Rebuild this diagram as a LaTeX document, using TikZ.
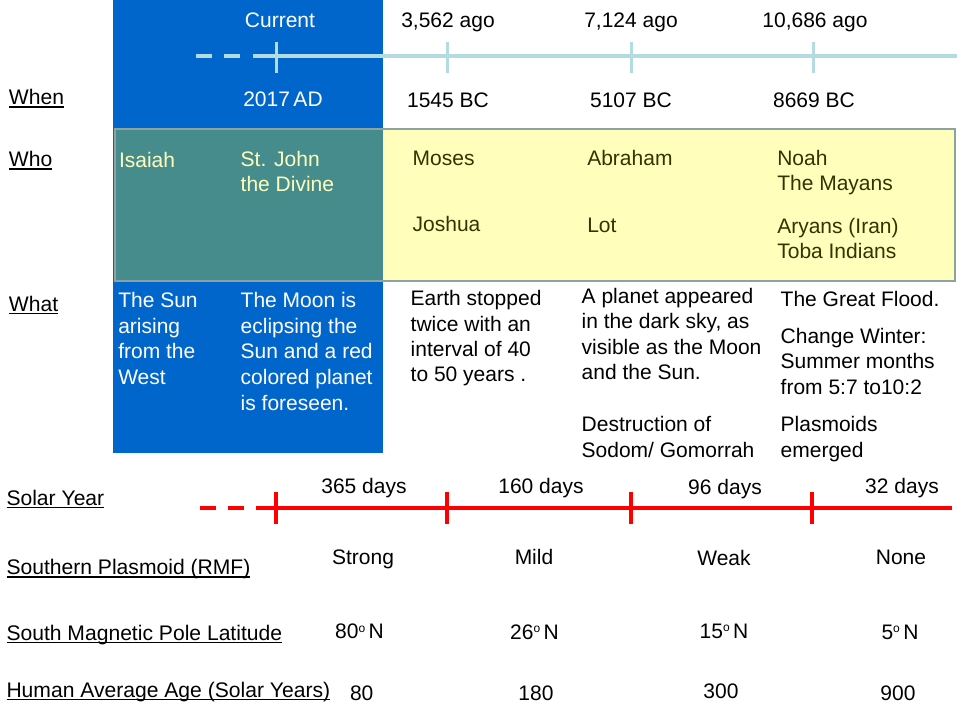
\documentclass[tikz,border=0pt]{standalone}
\usepackage{fontspec}
\setmainfont{Liberation Sans}
\definecolor{bluebg}{HTML}{0066CC}
\definecolor{tealbg}{HTML}{468C8C}
\definecolor{yellowbg}{HTML}{FFFFBB}
\definecolor{boxline}{HTML}{8CA3A3}
\definecolor{olive}{HTML}{333300}
\definecolor{paleyel}{HTML}{FFFFBB}
\definecolor{tline}{HTML}{B4DCE0}
\definecolor{redline}{HTML}{FF0000}
\newsavebox\ulbox
\newcommand{\ulx}[1]{\sbox\ulbox{#1}\rlap{\rule[-3.4pt]{\wd\ulbox}{1.7pt}}\usebox\ulbox}
\newcommand{\ml}[1]{\begin{tabular}[t]{@{}l@{}}#1\end{tabular}}
\newcommand{\dg}{\raisebox{6.5pt}{\fontsize{12}{12}\selectfont o}}
\begin{document}
\begin{tikzpicture}[x=1pt,y=-1pt,
  txt/.style={inner sep=0pt,outer sep=0pt,font=\fontsize{21}{25.4}\selectfont},
  lbl/.style={txt,anchor=base west,font=\fontsize{21.1}{25.4}\selectfont},
  ctr/.style={txt,anchor=base},
  lft/.style={txt,anchor=base west},
  wtxt/.style={text=white},
  ytxt/.style={text=paleyel},
  otxt/.style={text=olive},
  tlblue/.style={draw=tline,line width=3.3pt},
  tlred/.style={draw=redline,line width=3.6pt}]
\useasboundingbox (0,0) rectangle (964,710);
% backgrounds
\fill[bluebg] (113,0) rectangle (383,453);
\fill[yellowbg] (383,129) rectangle (955,281);
\fill[tealbg] (115,129) rectangle (383,281);
\draw[boxline,line width=2.6pt] (115,129) rectangle (955,281);

% top timeline
\coordinate (bd0) at (196,56);
\coordinate (bd1) at (263,56);
\coordinate (bend) at (957,56);
\draw[tlblue,dash pattern=on 15.7pt off 12.7pt] (bd0) -- (266,56);
\draw[tlblue] (bd1) -- (bend);
\foreach \n/\x in {t0/276,t1/447,t2/631,t3/813}{
  \coordinate (\n a) at (\x,42);
  \coordinate (\n b) at (\x,72.5);
  \draw[draw=tline,line width=3pt] (\n a) -- (\n b);
}
\node[ctr,wtxt] (cur) at (280,27.3) {Current};
\node[ctr] (ago1) at (448,27.3) {3,562 ago};
\node[ctr] (ago2) at (631,27.3) {7,124 ago};
\node[ctr] (ago3) at (815,27.3) {10,686 ago};
\node[ctr,wtxt] (y0) at (283,106.7) {2017\,AD};
\node[ctr] (y1) at (448,107) {1545 BC};
\node[ctr] (y2) at (631,107) {5107 BC};
\node[ctr] (y3) at (814,107) {8669 BC};

% row labels
\node[lbl] (when) at (9,104.5) {\ulx{When}};
\node[lbl] (who) at (9,166.5) {\ulx{Who}};
\node[lbl] (what) at (9,311) {\ulx{What}};

% who
\node[lft,ytxt] (isaiah) at (119,167.3) {Isaiah};
\node[lft,ytxt] (john) at (240.7,166) {\ml{St. John\\the Divine}};
\node[lft,otxt] (moses) at (412.7,165) {Moses};
\node[lft,otxt] (joshua) at (412.7,231.7) {Joshua};
\node[lft,otxt] (abraham) at (587.3,165) {Abraham};
\node[lft,otxt] (lot) at (587.3,232.3) {Lot};
\node[lft,otxt] (noah) at (777.3,165) {\ml{Noah\\The Mayans}};
\node[lft,otxt] (aryans) at (777.3,233.3) {\ml{Aryans (Iran)\\Toba Indians}};

% what
\node[lft,wtxt,font=\fontsize{21}{25.7}\selectfont] (sun) at (118.3,307.3) {\ml{The Sun\\arising\\from the\\West}};
\node[lft,wtxt,font=\fontsize{21}{25.7}\selectfont] (moon) at (240.7,307.3) {\ml{The Moon is\\eclipsing the\\Sun and a red\\colored planet\\is foreseen.}};
\node[lft] (earth) at (410.7,305.7) {\ml{Earth stopped\\twice with an\\interval of 40\\to 50 years .}};
\node[lft] (planet) at (581.7,303.3) {\ml{A planet appeared\\in the dark sky, as\\visible as the Moon\\and the Sun.}};
\node[lft] (sodom) at (581.7,431.7) {\ml{Destruction of\\Sodom/ Gomorrah}};
\node[lft] (flood) at (780.7,306.7) {The Great Flood.};
\node[lft] (winter) at (780.7,343.3) {\ml{Change Winter:\\Summer months\\from 5:7 to10:2}};
\node[lft] (plasm) at (780.7,431.7) {\ml{Plasmoids\\emerged}};

% solar year timeline
\coordinate (rd0) at (200,508);
\coordinate (rd1) at (272,508);
\coordinate (rend) at (952,508);
\draw[tlred,dash pattern=on 16pt off 12pt] (rd0) -- (rd1);
\draw[tlred] (rd1) -- (rend);
\foreach \n/\x in {r0/276,r1/447,r2/631,r3/812}{
  \coordinate (\n a) at (\x,492);
  \coordinate (\n b) at (\x,524);
  \draw[draw=redline,line width=3.6pt] (\n a) -- (\n b);
}
\node[lbl] (solar) at (6.5,505) {\ulx{Solar Year}};
\node[ctr] (d1) at (364,493.3) {365 days};
\node[ctr] (d2) at (541,493.3) {160 days};
\node[ctr] (d3) at (725,494.3) {96 days};
\node[ctr] (d4) at (902,493.3) {32 days};

\node[lbl] (rmf) at (6.5,574.3) {\ulx{Southern Plasmoid (RMF)}};
\node[ctr] (s1) at (363,564.3) {Strong};
\node[ctr] (s2) at (534,564.3) {Mild};
\node[ctr] (s3) at (724,565) {Weak};
\node[ctr] (s4) at (901,564.3) {None};

\node[lbl] (smp) at (6.5,640) {\ulx{South Magnetic Pole Latitude}};
\node[ctr] (l1) at (359.5,638.5) {80\dg\,N};
\node[ctr] (l2) at (534.5,639.3) {26\dg\,N};
\node[ctr] (l3) at (724,638.3) {15\dg\,N};
\node[ctr] (l4) at (900,639) {5\dg\,N};

\node[lbl] (age) at (6.5,697) {\ulx{Human Average Age (Solar Years)}};
\node[ctr] (a1) at (361.7,700) {80};
\node[ctr] (a2) at (536,700) {180};
\node[ctr] (a3) at (721,698.3) {300};
\node[ctr] (a4) at (898,700) {900};
\end{tikzpicture}
\end{document}
